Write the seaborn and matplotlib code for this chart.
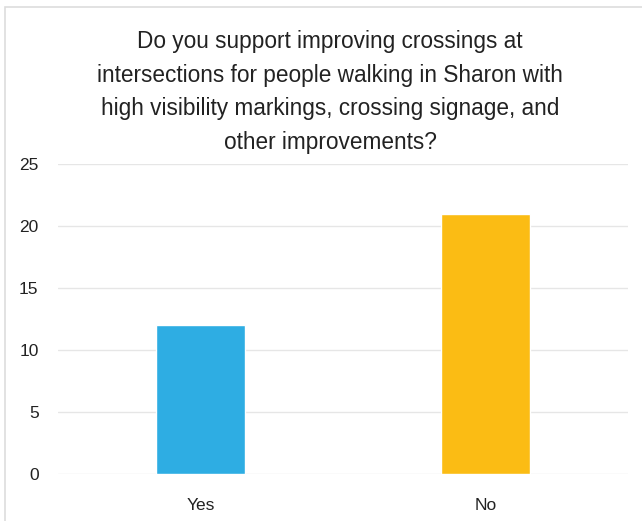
import matplotlib
matplotlib.use("Agg")
import matplotlib.pyplot as plt
import seaborn as sns
import pandas as pd
from matplotlib.patches import Rectangle

categories = ["Yes", "No"]
values = [12, 21]
colors = ["#2EADE3", "#FBBC14"]
yticks = [0, 5, 10, 15, 20, 25]
title = ("Do you support improving crossings at\n"
         "intersections for people walking in Sharon with\n"
         "high visibility markings, crossing signage, and\n"
         "other improvements?")

sns.set_theme(style="white")
plt.rcParams["font.family"] = ["Liberation Sans", "DejaVu Sans"]

df = pd.DataFrame({"answer": categories, "count": values})

fig = plt.figure(figsize=(6.42, 5.21), dpi=100)
ax = fig.add_axes([58/642, 47/521, 570/642, 310/521])

sns.barplot(data=df, x="answer", y="count", hue="answer", palette=colors,
            legend=False, width=0.31, ax=ax, saturation=1)

ax.set_xlim(-0.5, 1.5)
ax.set_ylim(0, 25)
ax.set_yticks(yticks)
ax.yaxis.grid(True, color="#e6e6e6", linewidth=1)
ax.set_axisbelow(True)
for s in ax.spines.values():
    s.set_visible(False)
ax.set_xlabel("")
ax.set_ylabel("")
ax.tick_params(axis="y", length=0, pad=14, labelsize=12.5, labelcolor="#222222")
ax.tick_params(axis="x", length=0, pad=17, labelsize=12.5, labelcolor="#222222")

fig.text(330/642, 1 - 92/521, title, ha="center", va="center",
         fontsize=16.3, linespacing=1.58, color="#222222")

fig.patches.append(Rectangle((5/642, -0.1), 1.2, 1 - 7/521 + 0.1,
                             transform=fig.transFigure, fill=False,
                             edgecolor="#dddddd", linewidth=1.2))

fig.savefig("out.png", dpi=100)
